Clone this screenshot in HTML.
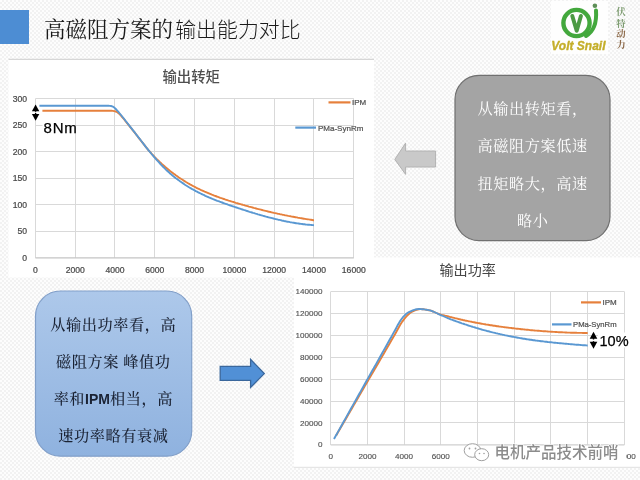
<!DOCTYPE html>
<html><head><meta charset="utf-8">
<style>
html,body{margin:0;padding:0;}
body{width:640px;height:480px;overflow:hidden;position:relative;
background-color:#f8f8f8;
background-image:repeating-conic-gradient(#f2f2f2 0 25%, #fdfdfd 0 50%);
background-size:4px 4px;}
svg{position:absolute;left:0;top:0;}
.t{font-family:"Liberation Sans","Noto Sans CJK SC",sans-serif;stroke:#4a4a4a;stroke-width:0.22px;}
</style></head><body>
<svg width="640" height="480" viewBox="0 0 640 480">
<!-- title bar -->
<rect x="0" y="10" width="29" height="34" fill="#4d8dd3"/>
<text x="44" y="37.1" font-family="'Noto Serif CJK SC',serif" font-weight="400" font-size="21.5" fill="#1a1a1a">高磁阻方案的<tspan dx="2.2" font-size="20.9" font-family="'Noto Sans CJK SC',sans-serif" font-weight="300">输出能力对比</tspan></text>

<!-- logo -->
<rect x="551" y="1" width="57" height="53" fill="#fefefe"/>
<circle cx="576.5" cy="23" r="13.1" fill="none" stroke="#43a83d" stroke-width="4.4"/>
<path d="M596,10.5 C596.8,22 594.5,31 586,36" fill="none" stroke="#43a83d" stroke-width="4" stroke-linecap="round"/>
<circle cx="594.9" cy="5.7" r="2.3" fill="#5e8f58"/>
<polyline points="572.3,16 576.7,30.8 580.9,16" fill="none" stroke="#4b9a43" stroke-width="4" stroke-linecap="round" stroke-linejoin="round"/>
<text x="578.4" y="49.8" text-anchor="middle" font-family="'Liberation Sans',sans-serif" font-weight="bold" font-style="italic" font-size="12" fill="#c4ae2a" stroke="#c4ae2a" stroke-width="0.35">Volt Snail</text>
<g font-family="'Noto Serif CJK SC',serif" font-size="9.4" font-weight="700" text-anchor="middle">
<text x="621" y="15.3" fill="#7b9a6e">伏</text>
<text x="621" y="26.7" fill="#7b9a6e">特</text>
<text x="621" y="37.3" fill="#8c6a4a">动</text>
<text x="621" y="47.6" fill="#8c6a4a">力</text>
</g>

<!-- chart 1 panel -->
<rect x="8.5" y="59" width="365.5" height="218.5" fill="#fff"/>
<line x1="8.5" y1="59.3" x2="374" y2="59.3" stroke="#d6d6d6" stroke-width="1.2"/>
<!-- chart 2 panel -->
<rect x="294" y="257.5" width="346" height="210" fill="#fff"/>
<line x1="294" y1="467.3" x2="640" y2="467.3" stroke="#e0e0e0" stroke-width="1"/>

<g stroke="#d9d9d9" stroke-width="1">
<line x1="35.4" y1="231.5" x2="353.8" y2="231.5"/>
<line x1="35.4" y1="204.5" x2="353.8" y2="204.5"/>
<line x1="35.4" y1="178.5" x2="353.8" y2="178.5"/>
<line x1="35.4" y1="151.5" x2="353.8" y2="151.5"/>
<line x1="35.4" y1="125.5" x2="353.8" y2="125.5"/>
<line x1="35.4" y1="98.5" x2="353.8" y2="98.5"/>
<line x1="35.5" y1="98.7" x2="35.5" y2="257.8"/>
<line x1="75.5" y1="98.7" x2="75.5" y2="257.8"/>
<line x1="114.5" y1="98.7" x2="114.5" y2="257.8"/>
<line x1="154.5" y1="98.7" x2="154.5" y2="257.8"/>
<line x1="194.5" y1="98.7" x2="194.5" y2="257.8"/>
<line x1="234.5" y1="98.7" x2="234.5" y2="257.8"/>
<line x1="274.5" y1="98.7" x2="274.5" y2="257.8"/>
<line x1="313.5" y1="98.7" x2="313.5" y2="257.8"/>
<line x1="353.5" y1="98.7" x2="353.5" y2="257.8"/>
<line x1="330.7" y1="422.5" x2="624.4" y2="422.5"/>
<line x1="330.7" y1="401.5" x2="624.4" y2="401.5"/>
<line x1="330.7" y1="379.5" x2="624.4" y2="379.5"/>
<line x1="330.7" y1="357.5" x2="624.4" y2="357.5"/>
<line x1="330.7" y1="335.5" x2="624.4" y2="335.5"/>
<line x1="330.7" y1="313.5" x2="624.4" y2="313.5"/>
<line x1="330.7" y1="291.5" x2="624.4" y2="291.5"/>
<line x1="330.5" y1="291.6" x2="330.5" y2="444.9"/>
<line x1="367.5" y1="291.6" x2="367.5" y2="444.9"/>
<line x1="404.5" y1="291.6" x2="404.5" y2="444.9"/>
<line x1="440.5" y1="291.6" x2="440.5" y2="444.9"/>
<line x1="477.5" y1="291.6" x2="477.5" y2="444.9"/>
<line x1="514.5" y1="291.6" x2="514.5" y2="444.9"/>
<line x1="550.5" y1="291.6" x2="550.5" y2="444.9"/>
<line x1="587.5" y1="291.6" x2="587.5" y2="444.9"/>
<line x1="624.5" y1="291.6" x2="624.5" y2="444.9"/>
</g>
<!-- axes -->
<line x1="35.4" y1="257.8" x2="353.8" y2="257.8" stroke="#c4c4c4" stroke-width="1.3"/>
<line x1="330.7" y1="444.9" x2="624.4" y2="444.9" stroke="#cfcfcf" stroke-width="1.2"/>

<g class="t" font-size="8.6" fill="#474747" text-anchor="end">
<text x="27" y="260.8">0</text>
<text x="27" y="234.3">50</text>
<text x="27" y="207.8">100</text>
<text x="27" y="181.3">150</text>
<text x="27" y="154.8">200</text>
<text x="27" y="128.2">250</text>
<text x="27" y="101.7">300</text>
</g>
<g class="t" font-size="8.6" fill="#474747" text-anchor="middle">
<text x="35.4" y="272.5">0</text>
<text x="75.2" y="272.5">2000</text>
<text x="115.0" y="272.5">4000</text>
<text x="154.8" y="272.5">6000</text>
<text x="194.6" y="272.5">8000</text>
<text x="234.4" y="272.5">10000</text>
<text x="274.2" y="272.5">12000</text>
<text x="314.0" y="272.5">14000</text>
<text x="353.8" y="272.5">16000</text>
</g>
<g class="t" font-size="8.1" fill="#505050" style="stroke-width:0.12px" text-anchor="end">
<text x="322.5" y="447.4">0</text>
<text x="322.5" y="425.5">20000</text>
<text x="322.5" y="403.6">40000</text>
<text x="322.5" y="381.7">60000</text>
<text x="322.5" y="359.8">80000</text>
<text x="322.5" y="337.9">100000</text>
<text x="322.5" y="316.0">120000</text>
<text x="322.5" y="294.1">140000</text>
</g>
<g class="t" font-size="8.1" fill="#505050" style="stroke-width:0.12px" text-anchor="middle">
<text x="330.7" y="459.3">0</text>
<text x="367.4" y="459.3">2000</text>
<text x="404.1" y="459.3">4000</text>
<text x="440.8" y="459.3">6000</text>
<text x="477.5" y="459.3">8000</text>
<text x="514.2" y="459.3">10000</text>
<text x="551.0" y="459.3">12000</text>
<text x="587.7" y="459.3">14000</text>
<text x="624.4" y="459.3">16000</text>
</g>

<text x="191.2" y="81.6" text-anchor="middle" font-family="'Noto Sans CJK SC',sans-serif" font-weight="500" font-size="14.4" fill="#4f4f4f">输出转矩</text>
<text x="467.7" y="275.3" text-anchor="middle" font-family="'Noto Sans CJK SC',sans-serif" font-weight="400" font-size="14.1" fill="#474747">输出功率</text>

<!-- curves -->
<g fill="none" stroke-width="1.9" stroke-linejoin="round" stroke-linecap="butt">
<polyline stroke="#e6803c" points="42.4,110.7 43.6,110.7 44.8,110.7 45.9,110.7 47.1,110.7 48.3,110.7 49.5,110.7 50.7,110.7 51.9,110.7 53.1,110.7 54.3,110.7 55.5,110.7 56.7,110.7 57.9,110.7 59.1,110.7 60.3,110.7 61.5,110.7 62.7,110.7 63.9,110.7 65.1,110.7 66.2,110.7 67.4,110.7 68.6,110.7 69.8,110.7 71.0,110.7 72.2,110.7 73.4,110.7 74.6,110.7 75.8,110.7 77.0,110.7 78.2,110.7 79.4,110.7 80.6,110.7 81.8,110.7 83.0,110.7 84.2,110.7 85.3,110.7 86.5,110.7 87.7,110.7 88.9,110.7 90.1,110.7 91.3,110.7 92.5,110.7 93.7,110.7 94.9,110.7 96.1,110.7 97.3,110.7 98.5,110.7 99.7,110.7 100.9,110.7 102.1,110.7 103.3,110.7 104.5,110.7 105.6,110.7 106.8,110.7 108.0,110.7 109.2,110.7 110.4,110.8 111.6,110.8 112.8,110.9 114.0,111.1 115.2,111.3 116.4,111.8 117.6,112.5 118.8,113.4 120.0,114.6 121.2,115.9 122.4,117.3 123.6,118.7 124.8,120.2 125.9,121.7 127.1,123.1 128.3,124.6 129.5,126.1 130.7,127.6 131.9,129.1 133.1,130.7 134.3,132.2 135.5,133.7 136.7,135.2 137.9,136.8 139.1,138.3 140.3,139.8 141.5,141.4 142.7,142.9 143.9,144.4 145.0,145.9 146.2,147.4 147.4,148.8 148.6,150.3 149.8,151.7 151.0,153.0 152.2,154.4 153.4,155.6 154.6,156.9 155.8,158.1 157.0,159.3 158.2,160.5 159.4,161.7 160.6,162.8 161.8,163.9 163.0,164.9 164.2,166.0 165.3,167.0 166.5,168.0 167.7,169.0 168.9,170.0 170.1,171.0 171.3,171.9 172.5,172.8 173.7,173.7 174.9,174.6 176.1,175.5 177.3,176.3 178.5,177.2 179.7,178.0 180.9,178.8 182.1,179.5 183.3,180.3 184.5,181.1 185.6,181.8 186.8,182.5 188.0,183.2 189.2,183.9 190.4,184.6 191.6,185.2 192.8,185.9 194.0,186.5 195.2,187.1 196.4,187.8 197.6,188.4 198.8,188.9 200.0,189.5 201.2,190.1 202.4,190.6 203.6,191.2 204.7,191.7 205.9,192.2 207.1,192.7 208.3,193.2 209.5,193.7 210.7,194.2 211.9,194.7 213.1,195.1 214.3,195.6 215.5,196.0 216.7,196.5 217.9,196.9 219.1,197.3 220.3,197.8 221.5,198.2 222.7,198.6 223.9,199.0 225.0,199.4 226.2,199.8 227.4,200.2 228.6,200.6 229.8,200.9 231.0,201.3 232.2,201.7 233.4,202.0 234.6,202.4 235.8,202.8 237.0,203.1 238.2,203.5 239.4,203.8 240.6,204.2 241.8,204.5 243.0,204.9 244.2,205.2 245.3,205.6 246.5,205.9 247.7,206.2 248.9,206.6 250.1,206.9 251.3,207.2 252.5,207.5 253.7,207.9 254.9,208.2 256.1,208.5 257.3,208.8 258.5,209.1 259.7,209.4 260.9,209.7 262.1,210.0 263.3,210.3 264.4,210.6 265.6,210.9 266.8,211.2 268.0,211.5 269.2,211.8 270.4,212.0 271.6,212.3 272.8,212.6 274.0,212.9 275.2,213.1 276.4,213.4 277.6,213.7 278.8,213.9 280.0,214.2 281.2,214.4 282.4,214.7 283.6,214.9 284.7,215.2 285.9,215.4 287.1,215.6 288.3,215.9 289.5,216.1 290.7,216.3 291.9,216.6 293.1,216.8 294.3,217.0 295.5,217.2 296.7,217.4 297.9,217.7 299.1,217.9 300.3,218.1 301.5,218.3 302.7,218.5 303.9,218.7 305.0,218.9 306.2,219.1 307.4,219.3 308.6,219.4 309.8,219.6 311.0,219.8 312.2,220.0 313.4,220.2 314.0,220.2"/>
<polyline stroke="#5a98d2" points="39.4,105.7 40.6,105.7 41.8,105.7 43.0,105.7 44.2,105.7 45.3,105.7 46.5,105.7 47.7,105.7 48.9,105.7 50.1,105.7 51.3,105.7 52.5,105.7 53.7,105.7 54.9,105.7 56.1,105.7 57.3,105.7 58.5,105.7 59.7,105.7 60.9,105.7 62.1,105.7 63.3,105.7 64.5,105.7 65.6,105.7 66.8,105.7 68.0,105.7 69.2,105.7 70.4,105.7 71.6,105.7 72.8,105.7 74.0,105.7 75.2,105.7 76.4,105.7 77.6,105.7 78.8,105.7 80.0,105.7 81.2,105.7 82.4,105.7 83.6,105.7 84.8,105.7 85.9,105.7 87.1,105.7 88.3,105.7 89.5,105.7 90.7,105.7 91.9,105.7 93.1,105.7 94.3,105.7 95.5,105.7 96.7,105.7 97.9,105.7 99.1,105.7 100.3,105.7 101.5,105.7 102.7,105.7 103.9,105.7 105.0,105.7 106.2,105.8 107.4,105.8 108.6,105.8 109.8,105.9 111.0,106.0 112.2,106.4 113.4,106.9 114.6,107.8 115.8,109.0 117.0,110.3 118.2,111.6 119.4,113.1 120.6,114.5 121.8,116.0 123.0,117.5 124.2,119.0 125.3,120.5 126.5,122.0 127.7,123.5 128.9,125.0 130.1,126.6 131.3,128.1 132.5,129.6 133.7,131.2 134.9,132.7 136.1,134.3 137.3,135.8 138.5,137.4 139.7,138.9 140.9,140.5 142.1,142.0 143.3,143.6 144.5,145.1 145.6,146.6 146.8,148.1 148.0,149.6 149.2,151.1 150.4,152.5 151.6,154.0 152.8,155.4 154.0,156.8 155.2,158.2 156.4,159.6 157.6,160.9 158.8,162.2 160.0,163.5 161.2,164.8 162.4,166.0 163.6,167.3 164.8,168.4 165.9,169.6 167.1,170.7 168.3,171.8 169.5,172.9 170.7,173.9 171.9,175.0 173.1,176.0 174.3,176.9 175.5,177.9 176.7,178.8 177.9,179.7 179.1,180.6 180.3,181.5 181.5,182.3 182.7,183.1 183.9,183.9 185.0,184.7 186.2,185.5 187.4,186.2 188.6,187.0 189.8,187.7 191.0,188.4 192.2,189.1 193.4,189.7 194.6,190.4 195.8,191.1 197.0,191.7 198.2,192.3 199.4,192.9 200.6,193.5 201.8,194.1 203.0,194.7 204.2,195.2 205.3,195.8 206.5,196.3 207.7,196.8 208.9,197.4 210.1,197.9 211.3,198.4 212.5,198.9 213.7,199.3 214.9,199.8 216.1,200.3 217.3,200.8 218.5,201.2 219.7,201.7 220.9,202.1 222.1,202.5 223.3,203.0 224.4,203.4 225.6,203.8 226.8,204.2 228.0,204.7 229.2,205.1 230.4,205.5 231.6,205.9 232.8,206.3 234.0,206.7 235.2,207.1 236.4,207.5 237.6,207.9 238.8,208.3 240.0,208.7 241.2,209.1 242.4,209.5 243.6,209.9 244.7,210.2 245.9,210.6 247.1,211.0 248.3,211.4 249.5,211.8 250.7,212.1 251.9,212.5 253.1,212.9 254.3,213.2 255.5,213.6 256.7,213.9 257.9,214.3 259.1,214.6 260.3,215.0 261.5,215.3 262.7,215.7 263.9,216.0 265.0,216.3 266.2,216.7 267.4,217.0 268.6,217.3 269.8,217.6 271.0,217.9 272.2,218.2 273.4,218.5 274.6,218.8 275.8,219.1 277.0,219.4 278.2,219.7 279.4,219.9 280.6,220.2 281.8,220.5 283.0,220.7 284.1,221.0 285.3,221.2 286.5,221.5 287.7,221.7 288.9,221.9 290.1,222.2 291.3,222.4 292.5,222.6 293.7,222.8 294.9,223.0 296.1,223.2 297.3,223.4 298.5,223.5 299.7,223.7 300.9,223.9 302.1,224.0 303.3,224.2 304.4,224.3 305.6,224.5 306.8,224.6 308.0,224.7 309.2,224.8 310.4,224.9 311.6,225.0 312.8,225.1 314.0,225.2"/>
<polyline stroke="#e6803c" points="336.2,435.4 337.3,433.5 338.4,431.6 339.5,429.7 340.6,427.8 341.7,425.9 342.8,424.1 343.9,422.2 345.0,420.3 346.1,418.4 347.2,416.5 348.3,414.6 349.4,412.7 350.5,410.8 351.6,408.9 352.7,407.0 353.8,405.1 354.9,403.2 356.0,401.3 357.1,399.4 358.2,397.5 359.3,395.6 360.4,393.7 361.5,391.8 362.6,389.9 363.7,388.0 364.8,386.1 365.9,384.2 367.0,382.4 368.1,380.5 369.2,378.6 370.3,376.7 371.4,374.8 372.5,372.9 373.7,371.0 374.8,369.1 375.9,367.2 377.0,365.3 378.1,363.4 379.2,361.5 380.3,359.6 381.4,357.7 382.5,355.8 383.6,353.9 384.7,352.0 385.8,350.1 386.9,348.2 388.0,346.3 389.1,344.4 390.2,342.5 391.3,340.6 392.4,338.7 393.5,336.8 394.6,334.9 395.7,333.0 396.8,331.0 397.9,329.0 399.0,327.0 400.1,325.1 401.2,323.3 402.3,321.6 403.4,320.1 404.5,318.6 405.6,317.3 406.7,316.1 407.8,315.0 408.9,314.0 410.0,313.0 411.1,312.2 412.2,311.6 413.3,311.1 414.4,310.7 415.5,310.2 416.6,309.8 417.7,309.5 418.8,309.3 419.9,309.1 421.0,309.1 422.1,309.2 423.2,309.3 424.3,309.4 425.4,309.6 426.5,309.8 427.6,310.0 428.7,310.2 429.8,310.4 430.9,310.7 432.0,311.1 433.1,311.5 434.2,312.0 435.3,312.5 436.4,313.0 437.5,313.5 438.6,313.9 439.7,314.2 440.8,314.6 441.9,314.9 443.0,315.1 444.1,315.4 445.2,315.7 446.3,315.9 447.4,316.2 448.5,316.5 449.6,316.8 450.7,317.1 451.8,317.3 452.9,317.6 454.0,317.9 455.1,318.2 456.2,318.4 457.3,318.7 458.5,319.0 459.6,319.2 460.7,319.5 461.8,319.7 462.9,320.0 464.0,320.2 465.1,320.5 466.2,320.7 467.3,320.9 468.4,321.2 469.5,321.4 470.6,321.6 471.7,321.8 472.8,322.1 473.9,322.3 475.0,322.5 476.1,322.7 477.2,322.9 478.3,323.1 479.4,323.3 480.5,323.5 481.6,323.7 482.7,323.9 483.8,324.1 484.9,324.3 486.0,324.5 487.1,324.6 488.2,324.8 489.3,325.0 490.4,325.2 491.5,325.3 492.6,325.5 493.7,325.7 494.8,325.8 495.9,326.0 497.0,326.2 498.1,326.3 499.2,326.5 500.3,326.6 501.4,326.8 502.5,326.9 503.6,327.1 504.7,327.2 505.8,327.4 506.9,327.5 508.0,327.6 509.1,327.8 510.2,327.9 511.3,328.0 512.4,328.2 513.5,328.3 514.6,328.4 515.7,328.6 516.8,328.7 517.9,328.8 519.0,328.9 520.1,329.0 521.2,329.2 522.3,329.3 523.4,329.4 524.5,329.5 525.6,329.6 526.7,329.7 527.8,329.8 528.9,329.9 530.0,330.1 531.1,330.2 532.2,330.3 533.3,330.4 534.4,330.5 535.5,330.6 536.6,330.6 537.7,330.7 538.8,330.8 539.9,330.9 541.0,331.0 542.1,331.1 543.3,331.2 544.4,331.3 545.5,331.3 546.6,331.4 547.7,331.5 548.8,331.6 549.9,331.6 551.0,331.7 552.1,331.8 553.2,331.9 554.3,331.9 555.4,332.0 556.5,332.0 557.6,332.1 558.7,332.2 559.8,332.2 560.9,332.3 562.0,332.3 563.1,332.4 564.2,332.4 565.3,332.5 566.4,332.5 567.5,332.6 568.6,332.6 569.7,332.6 570.8,332.7 571.9,332.7 573.0,332.8 574.1,332.8 575.2,332.8 576.3,332.8 577.4,332.9 578.5,332.9 579.6,332.9 580.7,332.9 581.8,332.9 582.9,333.0 584.0,333.0 585.1,333.0 586.2,333.0 587.3,333.0 587.7,333.0"/>
<polyline stroke="#5a98d2" points="334.0,439.0 335.1,437.0 336.2,435.1 337.3,433.1 338.4,431.1 339.5,429.2 340.6,427.2 341.7,425.2 342.8,423.3 343.9,421.3 345.0,419.4 346.1,417.4 347.2,415.4 348.3,413.5 349.4,411.5 350.5,409.5 351.6,407.6 352.7,405.6 353.8,403.6 354.9,401.7 356.0,399.7 357.1,397.8 358.2,395.8 359.3,393.8 360.4,391.9 361.5,389.9 362.6,387.9 363.7,386.0 364.8,384.0 365.9,382.0 367.0,380.1 368.1,378.1 369.2,376.1 370.3,374.2 371.4,372.2 372.5,370.3 373.7,368.3 374.8,366.3 375.9,364.4 377.0,362.4 378.1,360.4 379.2,358.5 380.3,356.5 381.4,354.5 382.5,352.6 383.6,350.6 384.7,348.6 385.8,346.7 386.9,344.7 388.0,342.8 389.1,340.8 390.2,338.8 391.3,336.9 392.4,334.9 393.5,332.9 394.6,331.0 395.7,329.0 396.8,326.9 397.9,324.8 399.0,322.9 400.1,321.1 401.2,319.5 402.3,318.0 403.4,316.7 404.5,315.6 405.6,314.5 406.7,313.6 407.8,312.8 408.9,312.1 410.0,311.6 411.1,311.1 412.2,310.6 413.3,310.2 414.4,309.8 415.5,309.5 416.6,309.2 417.7,309.1 418.8,309.0 419.9,309.0 421.0,309.1 422.1,309.2 423.2,309.3 424.3,309.4 425.4,309.6 426.5,309.8 427.6,309.9 428.7,310.1 429.8,310.4 430.9,310.7 432.0,311.1 433.1,311.5 434.2,312.0 435.3,312.5 436.4,313.0 437.5,313.5 438.6,314.1 439.7,314.6 440.8,315.1 441.9,315.5 443.0,316.0 444.1,316.5 445.2,317.0 446.3,317.5 447.4,318.0 448.5,318.4 449.6,318.8 450.7,319.3 451.8,319.7 452.9,320.1 454.0,320.5 455.1,320.9 456.2,321.3 457.3,321.7 458.5,322.1 459.6,322.5 460.7,322.9 461.8,323.3 462.9,323.6 464.0,324.0 465.1,324.4 466.2,324.7 467.3,325.1 468.4,325.5 469.5,325.8 470.6,326.2 471.7,326.5 472.8,326.9 473.9,327.2 475.0,327.5 476.1,327.9 477.2,328.2 478.3,328.5 479.4,328.8 480.5,329.1 481.6,329.5 482.7,329.8 483.8,330.1 484.9,330.4 486.0,330.7 487.1,331.0 488.2,331.2 489.3,331.5 490.4,331.8 491.5,332.1 492.6,332.4 493.7,332.6 494.8,332.9 495.9,333.2 497.0,333.4 498.1,333.7 499.2,333.9 500.3,334.2 501.4,334.4 502.5,334.7 503.6,334.9 504.7,335.2 505.8,335.4 506.9,335.6 508.0,335.8 509.1,336.1 510.2,336.3 511.3,336.5 512.4,336.7 513.5,336.9 514.6,337.1 515.7,337.3 516.8,337.5 517.9,337.7 519.0,337.9 520.1,338.1 521.2,338.3 522.3,338.5 523.4,338.7 524.5,338.8 525.6,339.0 526.7,339.2 527.8,339.4 528.9,339.5 530.0,339.7 531.1,339.8 532.2,340.0 533.3,340.2 534.4,340.3 535.5,340.5 536.6,340.6 537.7,340.7 538.8,340.9 539.9,341.0 541.0,341.2 542.1,341.3 543.3,341.4 544.4,341.6 545.5,341.7 546.6,341.8 547.7,342.0 548.8,342.1 549.9,342.2 551.0,342.3 552.1,342.4 553.2,342.6 554.3,342.7 555.4,342.8 556.5,342.9 557.6,343.0 558.7,343.1 559.8,343.2 560.9,343.3 562.0,343.4 563.1,343.5 564.2,343.6 565.3,343.7 566.4,343.8 567.5,343.9 568.6,344.0 569.7,344.1 570.8,344.2 571.9,344.3 573.0,344.4 574.1,344.5 575.2,344.6 576.3,344.7 577.4,344.7 578.5,344.8 579.6,344.9 580.7,345.0 581.8,345.1 582.9,345.2 584.0,345.3 585.1,345.3 586.2,345.4 587.3,345.5 587.7,345.5"/>
</g>

<!-- legends -->
<line x1="328.5" y1="102.4" x2="350.5" y2="102.4" stroke="#e6803c" stroke-width="2.2"/>
<line x1="295.3" y1="127.6" x2="316" y2="127.6" stroke="#5a98d2" stroke-width="2.2"/>
<g class="t" font-size="8" fill="#595959">
<text x="352" y="105.3">IPM</text>
<text x="318" y="130.5">PMa-SynRm</text>
<text x="602.5" y="305.3">IPM</text>
<text x="573" y="327.3" font-size="7.7">PMa-SynRm</text>
</g>
<line x1="581" y1="302.4" x2="601" y2="302.4" stroke="#e6803c" stroke-width="2.2"/>
<line x1="552" y1="324.4" x2="571.5" y2="324.4" stroke="#5a98d2" stroke-width="2.2"/>

<!-- annotations -->
<rect x="42.5" y="121" width="32" height="14.5" fill="#fff"/>
<rect x="598" y="332.5" width="32" height="15" fill="#fff"/>
<g fill="#000">
<path d="M35.6,104.6 L39.3,111.3 L31.9,111.3 Z"/>
<path d="M35.6,120.7 L39.3,114 L31.9,114 Z"/>
<rect x="34.9" y="110.5" width="1.4" height="1.2"/>
<rect x="34.9" y="113" width="1.4" height="1.5"/>
<path d="M593.5,331.8 L597.3,338.8 L589.7,338.8 Z"/>
<path d="M593.5,348.8 L597.3,341.8 L589.7,341.8 Z"/>
<rect x="592.8" y="338" width="1.4" height="1.5"/>
<rect x="592.8" y="341.2" width="1.4" height="1.5"/>
</g>
<text x="43.6" y="133.3" font-family="'Liberation Sans',sans-serif" font-size="15" letter-spacing="0.7" fill="#000" stroke="#000" stroke-width="0.25">8Nm</text>
<text x="599.5" y="345.7" font-family="'Liberation Sans',sans-serif" font-size="14.5" fill="#000" stroke="#000" stroke-width="0.25">10%</text>

<!-- gray box -->
<rect x="455" y="75.3" width="155" height="165.3" rx="24" ry="24" fill="#a4a4a4" stroke="#707070" stroke-width="1.2"/>
<g font-family="'Noto Serif CJK SC',serif" font-size="15.2" letter-spacing="0.55" fill="#fff" text-anchor="middle">
<text x="532.7" y="113.8">从输出转矩看，</text>
<text x="532.7" y="150.9">高磁阻方案低速</text>
<text x="532.7" y="188.8">扭矩略大，高速</text>
<text x="532.7" y="225.8">略小</text>
</g>
<!-- left arrow -->
<path d="M394.8,159.4 L405.6,143.1 L405.6,151 L435.6,151 L435.6,167 L405.6,167 L405.6,174.4 Z" fill="#c9c9c9" stroke="#b2b2b2" stroke-width="1"/>

<!-- blue box -->
<defs><linearGradient id="bg" x1="0" y1="0" x2="0" y2="1">
<stop offset="0" stop-color="#adc8ea"/><stop offset="1" stop-color="#8fb2df"/></linearGradient></defs>
<rect x="35.5" y="291" width="156.2" height="165.2" rx="25" ry="25" fill="url(#bg)" stroke="#819fc9" stroke-width="1.2"/>
<g font-family="'Noto Serif CJK SC',serif" font-size="15.2" letter-spacing="0.55" font-weight="500" fill="#1a2233" text-anchor="middle">
<text x="113.3" y="329.8">从输出功率看，高</text>
<text x="113.3" y="366.7">磁阻方案 峰值功</text>
<text x="113.3" y="403.6">率和<tspan font-family="'Liberation Sans',sans-serif" font-weight="bold" font-size="14" letter-spacing="0">IPM</tspan>相当，高</text>
<text x="113.3" y="441.2">速功率略有衰减</text>
</g>
<!-- right arrow -->
<path d="M220.2,366.3 L250.6,366.3 L250.6,359.3 L264.3,373.6 L250.6,387.4 L250.6,380.3 L220.2,380.3 Z" fill="#5190d6" stroke="#3a679c" stroke-width="1.3"/>

<!-- watermark -->
<rect x="463" y="446.3" width="163" height="19.5" fill="#fff"/>
<g fill="none" stroke="#a0a0a0" stroke-width="1">
<ellipse cx="472.5" cy="450.5" rx="8.3" ry="6.8" fill="#fff"/>
<ellipse cx="481.7" cy="454.7" rx="7" ry="6" fill="#fff"/>
</g>
<g fill="#a0a0a0"><circle cx="469.5" cy="448.5" r="0.9"/><circle cx="475.5" cy="448.5" r="0.9"/><circle cx="479.5" cy="453.5" r="0.8"/><circle cx="484" cy="453.5" r="0.8"/></g>
<text x="494.5" y="457.5" font-family="'Noto Sans CJK SC',sans-serif" font-size="15.5" font-weight="500" fill="#8c8c8c" stroke="#fff" stroke-width="1.2" paint-order="stroke">电机产品技术前哨</text>
</svg>
</body></html>
